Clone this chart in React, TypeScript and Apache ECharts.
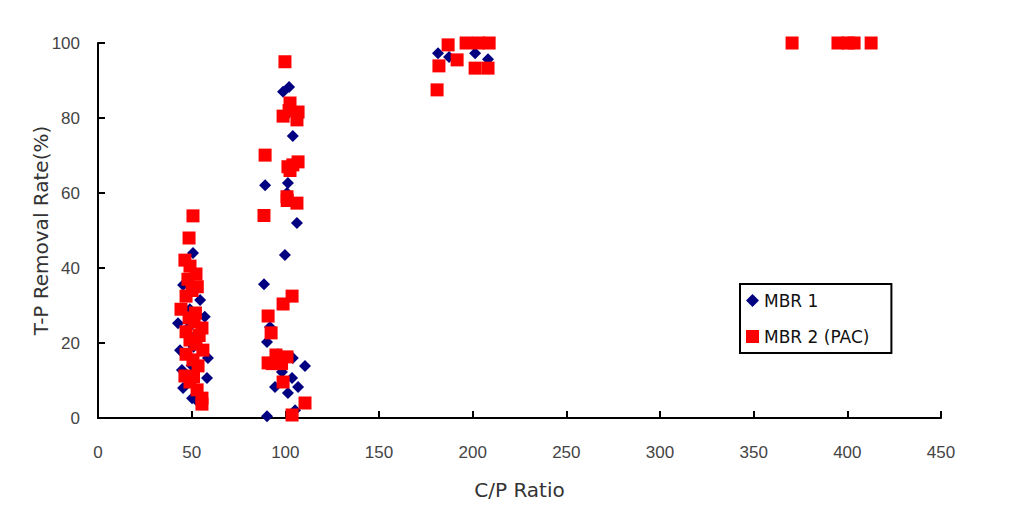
import React, { useEffect, useRef } from "react";
import * as echarts from "echarts";

const xTicks = { min: 0, max: 450, interval: 50 };
const yTicks = { min: 0, max: 100, interval: 20 };

const mbr1Series: [number, number][] = [
  // C/P ~ 50
  [50.7, 44], [45.4, 35.5], [54.5, 31.5], [57, 27], [42.7, 25.3], [49, 29], [52, 22],
  [43.8, 18.1], [58.7, 16], [50, 14], [44.8, 12.8], [58.2, 10.7], [45.4, 8], [50.2, 5.3],
  [53, 4.5], [48, 24], [51, 19],
  // C/P ~ 100
  [102, 88.3], [98.8, 87], [100, 80.5], [104, 75.2], [89.2, 62.1], [101.4, 62.7], [100.9, 60],
  [106.2, 52], [99.8, 43.5], [88.6, 35.7], [91.8, 24.3], [90.2, 20.3], [110.5, 13.9],
  [98.2, 12.3], [103.6, 10.7], [94.5, 8.3], [106.8, 8.3], [101.4, 6.7], [105.2, 2.1],
  [90.2, 0.5], [104, 16], [96, 17],
  // C/P ~ 200
  [181.5, 97.3], [187.4, 96.3], [201.3, 97.3], [208.2, 95.7],
  // C/P ~ 400
  [370.5, 100], [395, 100], [400.4, 100], [412.7, 100],
];

const mbr2Series: [number, number][] = [
  // C/P ~ 50
  [50.7, 53.9], [48.6, 48], [46.4, 42.1], [49.1, 40.5], [52.3, 38.4], [50.2, 34], [47, 32.5],
  [44.3, 29], [48.6, 26.7], [51.3, 25.6], [55.5, 24], [47, 23], [49.1, 20.8], [52.3, 19.7],
  [56, 18.1], [47, 17], [50.7, 15.5], [53.4, 13.9], [46.4, 11.2], [49.1, 9.6], [52.9, 7.5],
  [55.5, 5.3], [55.5, 3.7], [52, 28], [53, 35], [54, 22], [48, 37], [51, 11],
  // C/P ~ 100
  [99.8, 95], [102.5, 84], [106.8, 81.6], [98.8, 80.5], [106.2, 79.5], [102, 82], [89.2, 70.1],
  [106.8, 68.3], [101.4, 67], [104, 67.5], [102.5, 66], [100.9, 59], [106.2, 57.3], [101, 58],
  [88.6, 54], [103.6, 32.5], [98.8, 30.4], [90.8, 27.2], [92.4, 22.7], [95, 16.8], [100.9, 16.3],
  [90.8, 14.7], [98.8, 9.6], [110.5, 4], [103.6, 0.8], [98, 14.5], [93, 14.5],
  // C/P ~ 200
  [186.9, 99.5], [196.5, 100], [203, 100], [208.8, 100], [191.7, 95.5], [182, 93.9],
  [201.3, 93.3], [208.2, 93.3], [181, 87.5],
  // C/P ~ 400
  [370.5, 100], [395, 100], [400.4, 100], [403.6, 100], [412.7, 100],
];

const seriesNames = ["MBR 1", "MBR 2 (PAC)"];
const xTitle = "C/P Ratio";
const yTitle = "T-P Removal Rate(%)";

export default function App() {
  const ref = useRef<HTMLDivElement>(null);
  useEffect(() => {
    if (!ref.current) return;
    const chart = echarts.init(ref.current, undefined, { renderer: "svg" });
    const axisCommon = {
      axisLine: { show: true, lineStyle: { color: "#000", width: 2 } },
      axisTick: { show: true, inside: true, length: 7, lineStyle: { color: "#000", width: 2 } },
      splitLine: { show: false },
      axisLabel: { color: "#444", fontSize: 17, fontFamily: "Liberation Sans, Arial, sans-serif" },
      nameTextStyle: { color: "#333", fontSize: 20, fontFamily: "DejaVu Sans, sans-serif" },
      nameMoveOverlap: false,
    };
    chart.setOption({
      animation: false,
      backgroundColor: "#fff",
      grid: { left: 98, right: 85, top: 43, bottom: 92, containLabel: false },
      legend: {
        orient: "vertical",
        left: 740,
        top: 284,
        padding: [8, 22, 8, 6],
        itemGap: 19,
        itemWidth: 13,
        itemHeight: 13,
        borderColor: "#000",
        borderWidth: 2,
        textStyle: { color: "#111", fontSize: 17, fontFamily: "DejaVu Sans, sans-serif" },
        data: [
          { name: seriesNames[0], icon: "diamond" },
          { name: seriesNames[1], icon: "rect" },
        ],
      },
      xAxis: {
        type: "value",
        ...xTicks,
        name: xTitle,
        nameLocation: "middle",
        nameGap: 62,
        ...axisCommon,
        axisLabel: { ...axisCommon.axisLabel, margin: 26 },
      },
      yAxis: {
        type: "value",
        ...yTicks,
        name: yTitle,
        nameLocation: "middle",
        nameGap: 47,
        ...axisCommon,
        axisLabel: { ...axisCommon.axisLabel, margin: 18 },
      },
      series: [
        {
          name: seriesNames[0],
          type: "scatter",
          symbol: "diamond",
          symbolSize: 12,
          itemStyle: { color: "#000080", opacity: 1 },
          data: mbr1Series,
          clip: false,
        },
        {
          name: seriesNames[1],
          type: "scatter",
          symbol: "rect",
          symbolSize: 13,
          itemStyle: { color: "#ff0000", opacity: 1 },
          data: mbr2Series,
          clip: false,
        },
      ],
    });
    return () => chart.dispose();
  }, []);
  return (
    <div
      ref={ref}
      style={{ position: "fixed", left: 0, top: 0, width: 1026, height: 510, background: "#fff" }}
    />
  );
}
